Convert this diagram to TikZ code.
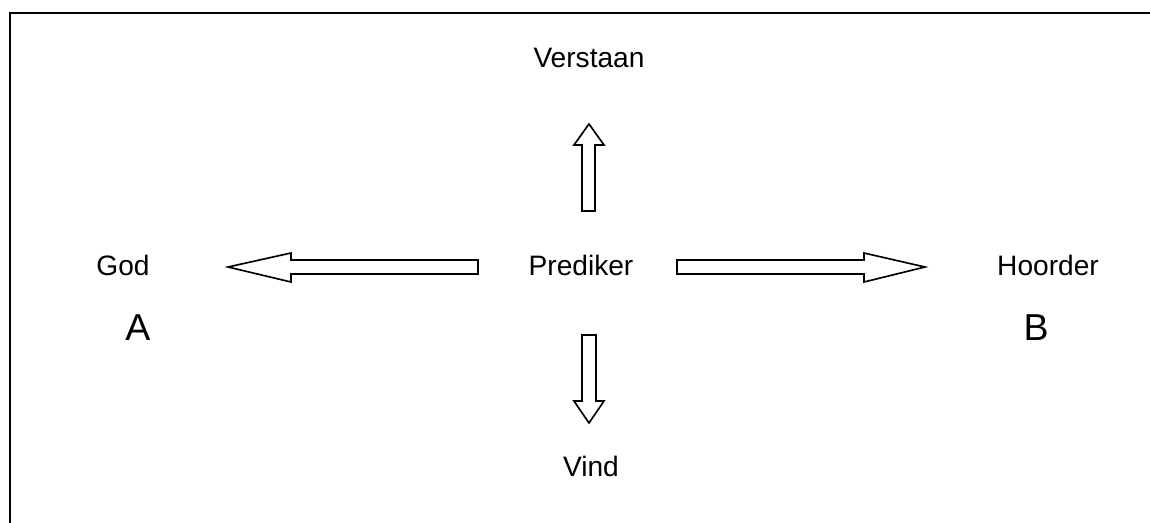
\documentclass[tikz,border=0pt]{standalone}
\usepackage{fontspec}
\setmainfont{Liberation Sans}
\usetikzlibrary{positioning}

\begin{document}
\begin{tikzpicture}[
        x=0.015cm, y=-0.015cm,
        every node/.style={font=\fontsize{12pt}{14pt}\selectfont, inner sep=0pt, anchor=base},
        bigletter/.style={font=\fontsize{16pt}{19pt}\selectfont},
        frame/.style={draw=black, line width=1.2pt},
        blockarrow/.style={draw=black, line width=0.7pt, fill=white, line join=miter}
        ]

        % Page size and clipped frame (only top and left edges show)
        \useasboundingbox (0,0) rectangle (1150,523);
        \clip (0,0) rectangle (1150,523);
        \draw[frame] (10,560) |- (1190,13);

        % Labels
        \node (verstaan) at (589, 67) {Verstaan};
        \node (prediker) at (581, 275) {Prediker};
        \node (vind) at (591, 476) {Vind};
        \node (god) at (123, 275) {God};
        \node (hoorder) at (1048, 275) {Hoorder};
        \node[bigletter] (a) at (138, 340) {A};
        \node[bigletter] (b) at (1036, 340) {B};

        % Block arrows out of Prediker
        \draw[blockarrow] (478,260) -- (291,260) -- (291,253) -- (228,267) -- (291,282) -- (291,274) -- (478,274) -- cycle;
        \draw[blockarrow] (677,260) -- (864,260) -- (864,253) -- (925,267) -- (864,282) -- (864,274) -- (677,274) -- cycle;
        \draw[blockarrow] (582,211) -- (582,145) -- (574,145) -- (589,124) -- (604,145) -- (595,145) -- (595,211) -- cycle;
        \draw[blockarrow] (582,335) -- (582,401) -- (574,401) -- (589,423) -- (604,401) -- (596,401) -- (596,335) -- cycle;

    \end{tikzpicture}
\end{document}
